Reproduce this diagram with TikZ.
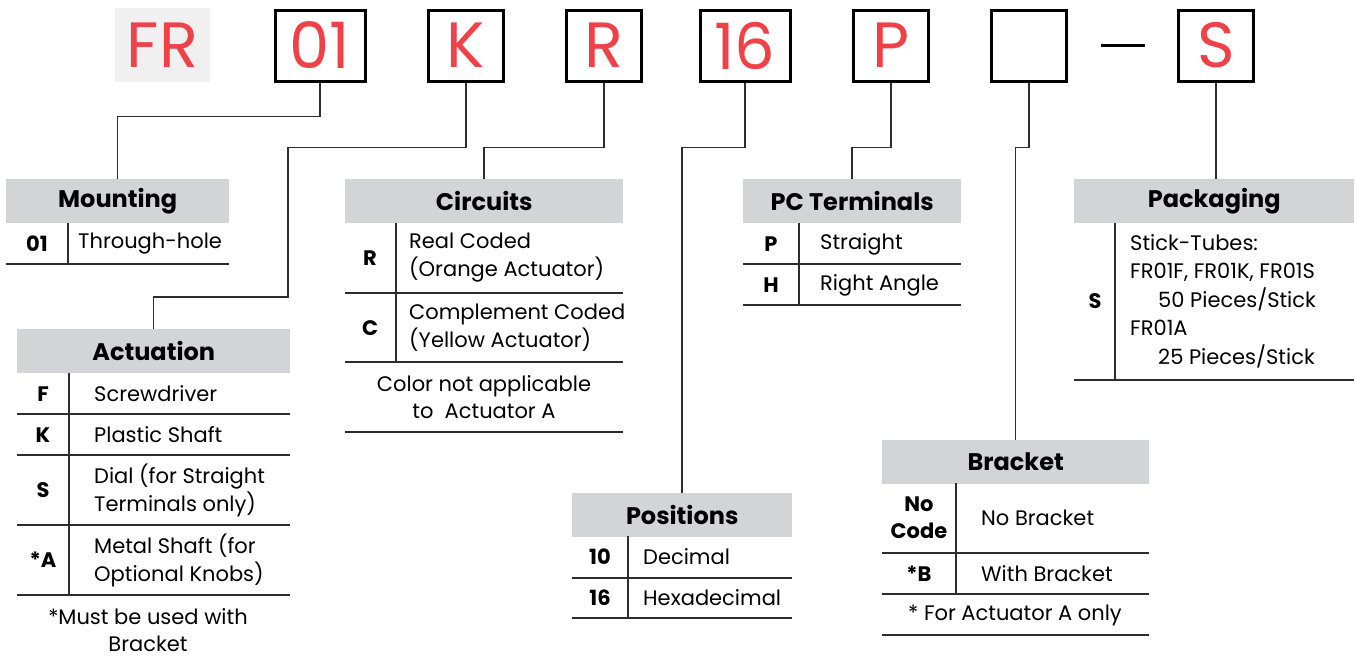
\documentclass[tikz,border=0pt]{standalone}
\usepackage{fontspec}
\setmainfont{Poppins}
\definecolor{codered}{RGB}{239,65,70}
\definecolor{hdrgray}{RGB}{211,212,214}
\definecolor{frgray}{RGB}{240,240,240}
\definecolor{linegray}{RGB}{45,45,45}
\usetikzlibrary{
	positioning
}
\tikzset{
	codebox/.style={draw=black, line width=3pt, minimum height=71, inner sep=0pt, text=codered, font=\fontsize{64}{64}\selectfont},
	hdr/.style={fill=hdrgray, minimum height=44, inner sep=0pt, anchor=north west, font=\fontsize{24}{28}\selectfont\bfseries},
	code/.style={inner sep=0pt, align=center, font=\fontsize{21}{28}\selectfont\bfseries},
	desc/.style={inner sep=0pt, anchor=west, align=left, font=\fontsize{21}{28}\selectfont},
	note/.style={inner sep=0pt, align=center, font=\fontsize{21}{27}\selectfont},
	rule/.style={draw=linegray, line width=1.5pt},
	link/.style={draw=linegray, line width=1.5pt}
}

\begin{document}
\begin{tikzpicture}[x=1pt, y=-1pt]
	\useasboundingbox (0,0) rectangle (1356,664);
	% part number
	\node[fill=frgray, minimum width=95, minimum height=74, inner sep=0pt, text=codered, font=\fontsize{64}{64}\selectfont] (fr) at (162.5,45) {FR};
	\foreach \nm/\cx/\bw/\txt in {b01/320/90/01, bk/466/75/K, br/604/75/R, b16/745/90/16, bp/891/75/P, bblank/1029/75/{}, bs/1216/75/S} {
		\node[codebox, minimum width=\bw] (\nm) at (\cx,45.5) {\txt};
	}
	\draw[line width=3pt, shorten <=33pt, shorten >=32pt] (bblank.east) -- (bs.west);

	% Mounting
	\node[hdr, minimum width=223] (mounting) at (6,179) {Mounting};
	\node[code] (mnt01) at (37,244) {01};
	\node[desc] (mntth) at (78,244) {Through-hole};
	\draw[rule] (68,223) -- (68,264);
	\draw[rule] (6,264) -- (229,264);

	% Actuation
	\node[hdr, minimum width=273] (actuation) at (17,329) {Actuation};
	\node[code] (actf) at (43,394) {F};
	\node[code] (actk) at (43,435) {K};
	\node[code] (acts) at (43,490) {S};
	\node[code] (acta) at (43,560) {*A};
	\node[desc] (actfd) at (94,394) {Screwdriver};
	\node[desc] (actkd) at (94,435) {Plastic Shaft};
	\node[desc] (actsd) at (94,490) {Dial (for Straight\\Terminals only)};
	\node[desc] (actad) at (94,560) {Metal Shaft (for\\Optional Knobs)};
	\node[note] (actnote) at (148,630) {*Must be used with\\Bracket};
	\draw[rule] (69,373) -- (69,595);
	\foreach \y in {414,455,525,595} {
		\draw[rule] (17,\y) -- (290,\y);
	}

	% Circuits
	\node[hdr, minimum width=278] (circuits) at (345,179) {Circuits};
	\node[code] (cirr) at (370,258) {R};
	\node[code] (circ) at (370,328) {C};
	\node[desc] (cirrd) at (409,258) {Real Coded\\(Orange Actuator)};
	\node[desc] (circd) at (409,328) {Complement Coded\\(Yellow Actuator)};
	\node[note] (cirnote) at (484,397) {Color not applicable\\to\ \ Actuator A};
	\draw[rule] (396,223) -- (396,362);
	\foreach \y in {293,362,432} {
		\draw[rule] (345,\y) -- (623,\y);
	}

	% PC Terminals
	\node[hdr, minimum width=218] (pcterm) at (743,179) {PC Terminals};
	\node[code] (pcp) at (771,244) {P};
	\node[code] (pch) at (771,285) {H};
	\node[desc] (pcpd) at (820,244) {Straight};
	\node[desc] (pchd) at (820,285) {Right Angle};
	\draw[rule] (799,223) -- (799,305);
	\foreach \y in {264,305} {
		\draw[rule] (743,\y) -- (961,\y);
	}

	% Packaging
	\node[hdr, minimum width=280] (packaging) at (1074,179) {Packaging};
	\node[code] (pkgs) at (1095,301) {S};
	\node[desc, font=\fontsize{21}{28.5}\selectfont] (pkgsd) at (1130,301) {Stick-Tubes:\\FR01F, FR01K, FR01S\\\hspace*{28pt}50 Pieces/Stick\\FR01A\\\hspace*{28pt}25 Pieces/Stick};
	\draw[rule] (1115,223) -- (1115,380);
	\draw[rule] (1074,380) -- (1354,380);

	% Positions
	\node[hdr, minimum width=220] (positions) at (572,493) {Positions};
	\node[code] (pos10) at (600,557) {10};
	\node[code] (pos16) at (600,598) {16};
	\node[desc] (pos10d) at (643,557) {Decimal};
	\node[desc] (pos16d) at (643,598) {Hexadecimal};
	\draw[rule] (628,536) -- (628,618);
	\foreach \y in {578,618} {
		\draw[rule] (572,\y) -- (792,\y);
	}

	% Bracket
	\node[hdr, minimum width=267] (bracket) at (882,440) {Bracket};
	\node[code, font=\fontsize{21}{27}\selectfont\bfseries] (brkno) at (919,518) {No\\Code};
	\node[code] (brkb) at (919,574) {*B};
	\node[desc] (brknod) at (981,518) {No Bracket};
	\node[desc] (brkbd) at (981,574) {With Bracket};
	\node[note] (brknote) at (1015,615) {* For Actuator A only};
	\draw[rule] (956,483) -- (956,594);
	\foreach \y in {553,594,635} {
		\draw[rule] (882,\y) -- (1149,\y);
	}

	% connectors
	\coordinate (kjog) at (288,297);
	\draw[link] (b01.south) -- ++(0,34) -| (mounting.north);
	\draw[link] (bk.south) -- ++(0,65) -| (kjog) -| (actuation.north);
	\draw[link] (br.south) -- ++(0,65) -| (circuits.north);
	\draw[link] (b16.south) -- ++(0,65) -| (positions.north);
	\draw[link] (bp.south) -- ++(0,65) -| (pcterm.north);
	\draw[link] (bblank.south) -- ++(0,65) -| (bracket.north);
	\draw[link] (bs.south) -- (bs.south |- packaging.north);
\end{tikzpicture}
\end{document}
